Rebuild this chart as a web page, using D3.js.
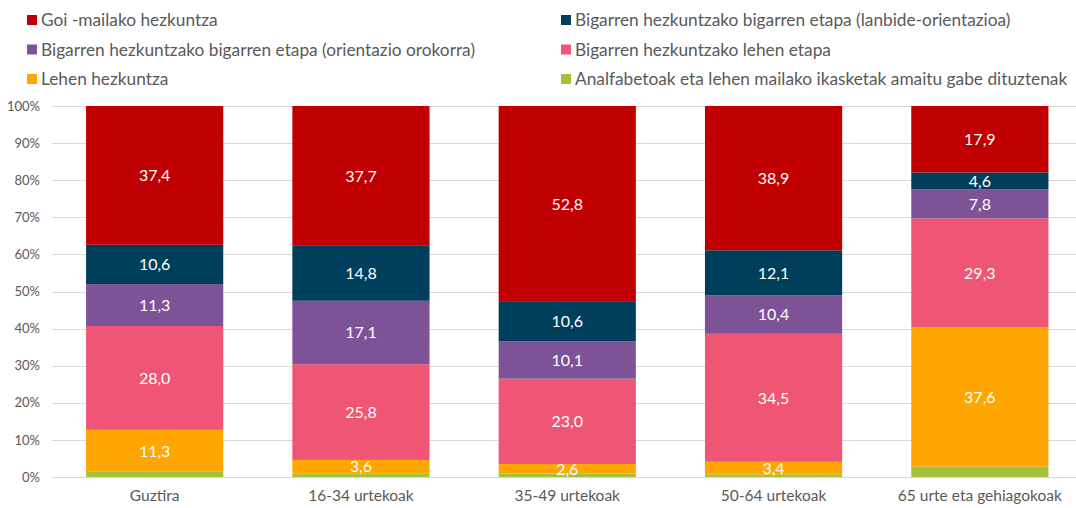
<!DOCTYPE html>
<html lang="eu">
<head>
<meta charset="utf-8">
<title>Hezkuntza maila adinaren arabera</title>
<script src="https://cdn.jsdelivr.net/npm/d3@7"></script>
<style>
  body { margin: 0; background: #fff; }
  text { font-family: Lato, "Open Sans", sans-serif; }
</style>
</head>
<body>
<svg width="1076" height="508"></svg>
<script>
// categories and series (bottom to top in the stack)
var categories = ["Guztira", "16-34 urtekoak", "35-49 urtekoak", "50-64 urtekoak", "65 urte eta gehiagokoak"];
var seriesNames = [
  "Analfabetoak eta lehen mailako ikasketak amaitu gabe dituztenak",
  "Lehen hezkuntza",
  "Bigarren hezkuntzako lehen etapa",
  "Bigarren hezkuntzako bigarren etapa (orientazio orokorra)",
  "Bigarren hezkuntzako bigarren etapa (lanbide-orientazioa)",
  "Goi -mailako hezkuntza"
];
var colors = ["#a3c13a", "#ffa600", "#ef5675", "#7d5296", "#003f5c", "#c00000"];

var analfabetoak = [1.4, 1.0, 0.9, 0.7, 2.8];
var lehenHezk    = [11.3, 3.6, 2.6, 3.4, 37.6];
var bigLehen     = [28.0, 25.8, 23.0, 34.5, 29.3];
var bigOrokorra  = [11.3, 17.1, 10.1, 10.4, 7.8];
var bigLanbide   = [10.6, 14.8, 10.6, 12.1, 4.6];
var goiMaila     = [37.4, 37.7, 52.8, 38.9, 17.9];

var yTicks = [0, 10, 20, 30, 40, 50, 60, 70, 80, 90, 100];

// legend order as in the picture (two columns)
var legendOrder = [5, 4, 3, 2, 1, 0];

var seriesValues = [analfabetoak, lehenHezk, bigLehen, bigOrokorra, bigLanbide, goiMaila];

var rows = categories.map(function(c, i) {
  var r = { cat: c };
  seriesValues.forEach(function(v, k) { r["s" + k] = v[i]; });
  return r;
});

var svg = d3.select("svg");
var plotTop = 106, plotBottom = 477;

var x = d3.scaleBand()
    .domain(categories)
    .range([51.5, 1083])
    .paddingInner(0.335)
    .paddingOuter(0.1675);

var y = d3.scaleLinear()
    .domain([0, 100])
    .range([plotBottom, plotTop]);

// gridlines
svg.append("g")
  .selectAll("line")
  .data(yTicks)
  .enter().append("line")
    .attr("x1", 52)
    .attr("x2", 1076)
    .attr("y1", function(d) { return Math.round(y(d)) + 0.5; })
    .attr("y2", function(d) { return Math.round(y(d)) + 0.5; })
    .attr("stroke", "#d9d9d9")
    .attr("stroke-width", 1);

// y axis labels
var yAxis = d3.axisLeft(y)
    .tickValues(yTicks)
    .tickSize(0)
    .tickPadding(0)
    .tickFormat(function(d) { return d + "%"; });

svg.append("g")
    .attr("transform", "translate(40,0)")
    .call(yAxis)
    .call(function(g) { g.select(".domain").remove(); })
    .selectAll("text")
      .attr("fill", "#595959")
      .style("font-size", "13px")
      .style("font-family", "Lato, 'Open Sans', sans-serif");

// stacked bars
var stack = d3.stack()
    .keys(seriesNames.map(function(d, k) { return "s" + k; }));
var layers = stack(rows);

var layer = svg.selectAll(".layer")
  .data(layers)
  .enter().append("g")
    .attr("class", "layer")
    .attr("fill", function(d, k) { return colors[k]; });

layer.selectAll("rect")
  .data(function(d) { return d; })
  .enter().append("rect")
    .attr("x", function(d) { return x(d.data.cat); })
    .attr("width", x.bandwidth())
    .attr("y", function(d) { return y(d[1]); })
    .attr("height", function(d) { return y(d[0]) - y(d[1]); });

// value labels (all except the first series)
var fmt = function(v) { return v.toFixed(1).replace(".", ","); };
layer.filter(function(d, k) { return k > 0; })
  .selectAll("text")
  .data(function(d) { return d; })
  .enter().append("text")
    .attr("x", function(d) { return x(d.data.cat) + x.bandwidth() / 2; })
    .attr("y", function(d) { return (y(d[0]) + y(d[1])) / 2; })
    .attr("dy", "0.36em")
    .attr("text-anchor", "middle")
    .attr("fill", "#fff")
    .style("font-size", "16px")
    .text(function(d) { return fmt(d[1] - d[0]); });

// x axis line
svg.append("line")
    .attr("x1", 52).attr("x2", 1076)
    .attr("y1", plotBottom + 0.5).attr("y2", plotBottom + 0.5)
    .attr("stroke", "#d9d9d9");

// category labels
var xAxis = d3.axisBottom(x).tickSize(0).tickPadding(0);
svg.append("g")
    .attr("transform", "translate(0," + 490 + ")")
    .call(xAxis)
    .call(function(g) { g.select(".domain").remove(); })
    .selectAll("text")
      .attr("fill", "#595959")
      .style("font-size", "15.5px")
      .style("font-family", "Lato, 'Open Sans', sans-serif");

// legend
var legend = svg.append("g").selectAll("g")
  .data(legendOrder)
  .enter().append("g")
    .attr("transform", function(k, i) {
      var col = i % 2, row = Math.floor(i / 2);
      return "translate(" + (col === 0 ? 27 : 561) + "," + (20 + row * 29.5) + ")";
    });

legend.append("rect")
    .attr("x", 0).attr("y", -5)
    .attr("width", 10).attr("height", 10)
    .attr("fill", function(k) { return colors[k]; });

legend.append("text")
    .attr("x", 14)
    .attr("dy", "0.36em")
    .attr("fill", "#595959")
    .style("font-size", "17.3px")
    .text(function(k) { return seriesNames[k]; });
</script>
</body>
</html>
